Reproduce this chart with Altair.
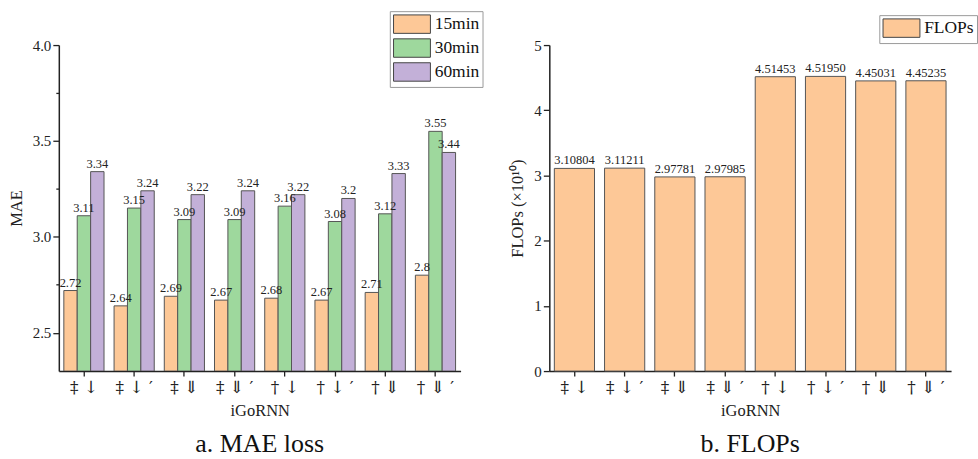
import altair as alt
import pandas as pd

cats = ["‡ ↓", "‡ ↓ ′", "‡ ⇓", "‡ ⇓ ′", "† ↓", "† ↓ ′", "† ⇓", "† ⇓ ′"]
horizons = ["15min", "30min", "60min"]
mae_15 = [2.72, 2.64, 2.69, 2.67, 2.68, 2.67, 2.71, 2.80]
mae_30 = [3.11, 3.15, 3.09, 3.09, 3.16, 3.08, 3.12, 3.55]
mae_60 = [3.34, 3.24, 3.22, 3.24, 3.22, 3.20, 3.33, 3.44]
flops = [3.10804, 3.11211, 2.97781, 2.97985, 4.51453, 4.51950, 4.45031, 4.45235]
mae_ticks = [2.5, 2.75, 3.0, 3.25, 3.5, 3.75, 4.0]
flops_ticks = [0, 0.5, 1, 1.5, 2, 2.5, 3, 3.5, 4, 4.5, 5]

colors = ["#FDC897", "#9ED89D", "#C3B0D8"]
SERIF = "Liberation Serif"

mae_df = pd.DataFrame({
    "cat": cats * 3,
    "h": [h for h in horizons for _ in cats],
    "mae": mae_15 + mae_30 + mae_60,
})
flops_df = pd.DataFrame({"cat": cats, "flops": flops, "s": ["FLOPs"] * len(cats)})

xscale = alt.Scale(paddingInner=0.2, paddingOuter=0.1)

def x_axis():
    return alt.Axis(labelAngle=0, title="iGoRNN", labelFontSize=17, labelFont="DejaVu Serif",
                    titleFontSize=16.5, titleFont=SERIF, titleFontWeight="normal",
                    tickSize=5, labelPadding=4, titlePadding=7)

legend_common = dict(
    orient="none", title=None, strokeColor="#9a9a9a", padding=3,
    symbolType="M-1,-1H3V1H-1Z", symbolSize=342, symbolStrokeColor="#444",
    symbolStrokeWidth=1, symbolOpacity=1, labelFont=SERIF, labelFontSize=17.5,
    labelColor="#111", rowPadding=0, labelOffset=22,
)

base_l = alt.Chart(mae_df).encode(
    x=alt.X("cat:N", sort=cats, scale=xscale, axis=x_axis()),
    xOffset=alt.XOffset("h:N", sort=horizons, scale=alt.Scale(paddingInner=0, paddingOuter=0)),
)
bars_l = base_l.mark_bar(stroke="#555", strokeWidth=1, clip=True).encode(
    y=alt.Y("mae:Q", scale=alt.Scale(domain=[2.3, 4.0], zero=False, nice=False),
            axis=alt.Axis(title="MAE", values=mae_ticks,
                          labelExpr="datum.value % 0.5 === 0 ? format(datum.value, '.1f') : ''",
                          tickSize=alt.condition("datum.value % 0.5 === 0", alt.value(6), alt.value(3)),
                          labelFontSize=15, labelFont=SERIF, titleFontSize=16.5, titleFont=SERIF,
                          titleFontWeight="normal", titlePadding=8)),
    y2=alt.datum(2.3),
    color=alt.Color("h:N", sort=horizons, scale=alt.Scale(domain=horizons, range=colors),
                    legend=alt.Legend(legendX=332, legendY=-34, **legend_common)),
)
text_l = base_l.mark_text(baseline="bottom", dy=-1, font=SERIF, fontSize=12.5, color="#222").encode(
    y=alt.Y("mae:Q"),
    text=alt.Text("mae:Q"),
)
left = alt.layer(bars_l, text_l).properties(
    width=403, height=327,
    title=alt.TitleParams("a. MAE loss", orient="bottom", fontSize=26, font=SERIF,
                          fontWeight="normal", offset=12, color="#111"),
)

base_r = alt.Chart(flops_df).encode(
    x=alt.X("cat:N", sort=cats, scale=xscale, axis=x_axis()),
)
bars_r = base_r.mark_bar(stroke="#555", strokeWidth=1).encode(
    y=alt.Y("flops:Q", scale=alt.Scale(domain=[0, 5], nice=False),
            axis=alt.Axis(title="FLOPs (×10¹⁰)", values=flops_ticks,
                          labelExpr="datum.value % 1 === 0 ? format(datum.value, 'd') : ''",
                          tickSize=alt.condition("datum.value % 1 === 0", alt.value(6), alt.value(3)),
                          labelFontSize=15, labelFont=SERIF, titleFontSize=16.5, titleFont=SERIF,
                          titleFontWeight="normal", titlePadding=8)),
    color=alt.Color("s:N", scale=alt.Scale(domain=["FLOPs"], range=[colors[0]]),
                    legend=alt.Legend(legendX=331, legendY=-30, **legend_common)),
)
text_r = base_r.mark_text(baseline="bottom", dy=-1, font=SERIF, fontSize=12.5, color="#222").encode(
    y=alt.Y("flops:Q"),
    text=alt.Text("flops:Q", format=".5f"),
)
right = alt.layer(bars_r, text_r).properties(
    width=403, height=327,
    title=alt.TitleParams("b. FLOPs", orient="bottom", fontSize=26, font=SERIF,
                          fontWeight="normal", offset=12, color="#111"),
)

chart = alt.hconcat(left, right, spacing=26).resolve_scale(color="independent").properties(
    padding={"left": 8, "top": 9.5, "right": 0, "bottom": 0}
).configure_view(stroke=None).configure_axis(
    domainColor="#222", domainWidth=1.5, tickColor="#222", tickWidth=1.3,
    labelColor="#222", titleColor="#222", grid=False,
)

chart.save("out.html", embed_options={"renderer": "svg", "actions": False})
